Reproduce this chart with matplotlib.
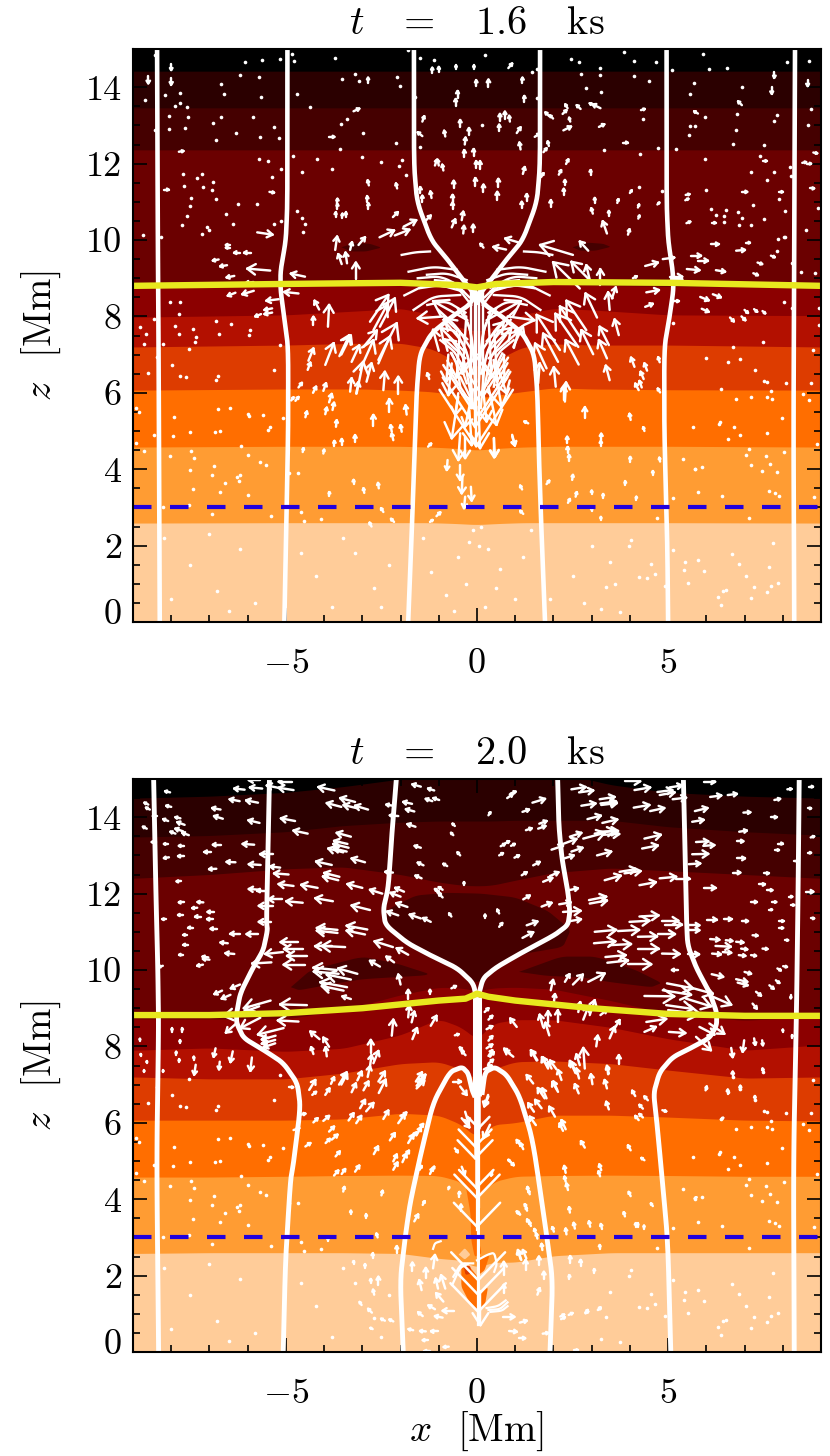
import numpy as np
import matplotlib
matplotlib.use("Agg")
import matplotlib.pyplot as plt
from matplotlib.collections import LineCollection
from matplotlib.ticker import MultipleLocator, FixedLocator
from matplotlib.transforms import ScaledTranslation

plt.rcParams['font.family'] = ['cmr10', 'DejaVu Serif']
plt.rcParams['mathtext.fontset'] = 'cm'
plt.rcParams['axes.formatter.use_mathtext'] = True
plt.rcParams['axes.unicode_minus'] = False

# ---------------- labels ----------------
titles = [r"$t$   =   1.6   ks", r"$t$   =   2.0   ks"]
x_ticks = [-5, 0, 5]
x_tick_labels = [r"$-$5", "0", "5"]
z_ticks = [0, 2, 4, 6, 8, 10, 12, 14]
band_colors = ['#ffcc99', '#ff9c33', '#ff6e00', '#dd3c00', '#b31000', '#8c0000', '#6b0000', '#450000', '#2b0000', '#000000']

# ---------------- isotherm edges, t=1.6 (x knots, then z per edge, bottom to top) ----------------
p1_kx = [-9, -5, -3, -2, -1.2, -.6, 0, .6, 1.2, 2, 3, 5, 9]
p1_edges = [
    [2.59, 2.6, 2.6, 2.6, 2.6, 2.58, 2.55, 2.58, 2.6, 2.6, 2.6, 2.6, 2.59],
    [4.58, 4.6, 4.6, 4.6, 4.58, 4.55, 4.5, 4.55, 4.58, 4.6, 4.6, 4.6, 4.58],
    [6.07, 6.1, 6.1, 6.07, 6.03, 5.95, 5.86, 5.95, 6.03, 6.13, 6.1, 6.08, 6.07],
    [7.2, 7.25, 7.3, 7.3, 7.16, 6.85, 6.67, 6.9, 7.2, 7.28, 7.25, 7.25, 7.2],
    [7.98, 8.04, 8.15, 8.21, 8.05, 7.75, 7.6, 7.75, 8.05, 8.21, 8.17, 8.04, 8.02],
    [8.78, 8.8, 8.82, 8.85, 8.85, 8.85, 8.8, 8.85, 8.85, 8.85, 8.82, 8.78, 8.78],
    [12.36, 12.36, 12.36, 12.36, 12.36, 12.36, 12.36, 12.36, 12.36, 12.36, 12.36, 12.36, 12.36],
    [13.46, 13.46, 13.46, 13.46, 13.46, 13.46, 13.46, 13.46, 13.46, 13.46, 13.46, 13.46, 13.46],
    [14.42, 14.42, 14.42, 14.42, 14.42, 14.42, 14.42, 14.42, 14.42, 14.42, 14.42, 14.42, 14.42],
]
p1_lens_left = [(-3.55, 9.81), (-3.2, 9.92), (-2.8, 9.9), (-2.5, 9.8), (-2.9, 9.7), (-3.3, 9.7)]
p1_lens_right = [(2.5, 9.81), (2.9, 9.93), (3.3, 9.9), (3.5, 9.82), (3.1, 9.72), (2.7, 9.72)]

# ---------------- isotherm edges, t=2.0 ----------------
p2_kx = [-9, -7, -5, -3.5, -2, -1, -.4, 0, .4, 1, 2, 3.5, 5, 7, 9]
p2_edges = [
    [2.58, 2.6, 2.6, 2.6, 2.58, 2.45, 2.4, 2.2, 2.35, 2.35, 2.52, 2.6, 2.6, 2.6, 2.6],
    [4.58, 4.58, 4.6, 4.62, 4.63, 4.62, 4.45, 4.0, 4.45, 4.6, 4.62, 4.63, 4.62, 4.6, 4.6],
    [6.07, 6.07, 6.07, 6.1, 6.25, 6.2, 5.95, 5.6, 5.95, 6.0, 6.2, 6.2, 6.15, 6.07, 6.05],
    [7.2, 7.15, 7.15, 7.3, 7.55, 7.6, 7.4, 7.1, 7.4, 7.6, 7.62, 7.55, 7.38, 7.17, 7.2],
    [7.9, 7.96, 7.87, 7.95, 8.3, 8.72, 8.5, 8.17, 8.6, 8.7, 8.7, 8.5, 8.2, 7.9, 8.04],
    [8.72, 8.72, 8.72, 8.95, 9.35, 9.55, 9.53, 9.45, 9.53, 9.55, 9.5, 9.2, 8.85, 8.68, 8.8],
    [12.4, 12.5, 12.65, 12.7, 12.5, 12.3, 12.22, 12.2, 12.22, 12.35, 12.55, 12.67, 12.6, 12.5, 12.4],
    [13.48, 13.52, 13.62, 13.78, 13.87, 13.9, 13.9, 13.9, 13.9, 13.92, 13.92, 13.92, 13.75, 13.62, 13.53],
    [14.5, 14.55, 14.65, 14.8, 15.0, 15.3, 15.4, 15.4, 15.4, 15.3, 15.2, 14.85, 14.65, 14.55, 14.5],
]
p2_lens_center = [(-2.4, 11.3), (-2.3, 11.6), (-1.6, 11.95), (-.8, 12.02), (.1, 12.0), (1, 11.9), (1.85, 11.55), (2.45, 11.05),
                  (2.25, 10.6), (1.2, 10.42), (.5, 10.05), (0, 9.65), (-.5, 10.05), (-1.25, 10.37), (-1.85, 10.7)]
p2_lens_left = [(-4.87, 9.55), (-4.35, 10.0), (-3, 10.35), (-2.1, 10.17), (-1.17, 9.87), (-3, 9.76), (-3.85, 9.62), (-4.65, 9.47)]
p2_lens_right = [(1.1, 9.95), (2.2, 10.35), (3.1, 10.35), (4.15, 10.0), (4.83, 9.66), (4.56, 9.55), (3.5, 9.68), (2.8, 9.8), (1.8, 9.85)]
p2_flame = [
    ('#ff6e00', [(-.32, 4.5), (.03, 4.5), (.0, 3.63), (.03, 3.02), (.12, 2.58), (-.06, 2.49), (-.15, 2.93), (-.17, 3.63)]),
    ('#ff6e00', [(-.41, 2.23), (-.23, 2.27), (.02, 1.97), (.02, 1.1), (-.23, 1.36), (-.41, 1.71)]),
    ('#dd3c00', [(-.35, 2.25), (-.18, 2.25), (-.14, 2.05), (-.3, 2.02)]),
    ('#ff6e00', [(.07, 2.49), (.33, 2.54), (.2, 2.14), (.03, 2.01)]),
    ('#ff6e00', [(.03, 1.45), (.29, 1.71), (.2, 1.18), (.03, 1.05)]),
    ('#ffcc99', [(-.48, 2.55), (-.32, 2.72), (-.17, 2.55), (-.32, 2.42)]),
]

# ---------------- field lines, (x, z) ----------------
p1_fl = [
    [(-8.37, 15), (-8.35, 10), (-8.33, 7), (-8.3, 0)],
    [(8.32, 15), (8.3, 10), (8.28, 5), (8.3, 0)],
    [(-4.96, 15), (-4.96, 11), (-5.0, 10), (-5.14, 9.2), (-5.14, 8.7), (-5.05, 8.0), (-4.94, 7.2), (-4.94, 5), (-5.0, 2), (-5.04, 0)],
    [(4.96, 15), (4.96, 11), (5.0, 10), (5.12, 9.2), (5.14, 8.7), (5.04, 8.0), (4.9, 7.2), (4.9, 5), (4.98, 2), (5.0, 0)],
    [(-1.65, 15), (-1.65, 12), (-1.57, 11), (-1.2, 10), (-.78, 9.5), (-.4, 9), (-.08, 8.6), (0, 8.3)],
    [(1.65, 15), (1.65, 12), (1.57, 11), (1.2, 10), (.78, 9.5), (.4, 9), (.08, 8.6), (0, 8.3)],
    [(-1.8, 0), (-1.72, 2), (-1.65, 4), (-1.58, 6), (-1.5, 7), (-1.2, 7.55), (-.65, 8.0), (-.2, 8.3), (0, 8.65)],
    [(1.78, 0), (1.7, 2), (1.63, 4), (1.58, 6), (1.5, 7), (1.2, 7.55), (.65, 8.0), (.2, 8.3), (0, 8.65)],
]
p2_fl = [
    [(-8.46, 15), (-8.4, 12), (-8.35, 10), (-8.33, 8.5), (-8.38, 5), (-8.33, 0)],
    [(8.43, 15), (8.4, 12), (8.36, 9), (8.28, 5), (8.3, 0)],
    [(-5.43, 15), (-5.51, 11.26), (-5.48, 11.05), (-5.59, 10.52), (-5.85, 10.08), (-6.19, 9.4), (-6.29, 8.87), (-6.29, 8.61), (-6.11, 8.22), (-5.59, 7.91), (-5.07, 7.57), (-4.7, 7.04), (-4.62, 6.41), (-4.8, 4.95), (-4.88, 4.5), (-5.01, 2.41), (-5.07, 0)],
    [(5.4, 15), (5.48, 11.36), (5.51, 10.65), (5.74, 10.05), (6.08, 9.42), (6.27, 8.9), (6.27, 8.55), (6.08, 8.22), (5.64, 7.98), (5.12, 7.72), (4.78, 7.33), (4.62, 6.78), (4.7, 6.07), (4.83, 4.69), (4.99, 2.93), (5.07, 0)],
    [(-2.11, 15), (-2.22, 13.66), (-2.32, 12.15), (-2.45, 11.62), (-2.4, 11.18), (-1.83, 10.71), (-1.23, 10.39), (-.52, 10.05), (-.1, 9.66), (0, 9.2)],
    [(2.11, 15), (2.14, 13.8), (2.22, 12.93), (2.38, 12.04), (2.43, 11.52), (2.38, 11.18), (2.04, 10.92), (1.2, 10.47), (.52, 10.08), (.16, 9.79), (.03, 9.3)],
    [(-1.93, 0), (-2.01, 1.88), (-1.88, 3.0), (-1.75, 3.9), (-1.49, 5.1), (-1.15, 6.52), (-.71, 7.33), (-.39, 7.46), (-.23, 7.3), (-.13, 6.86), (-.05, 6.67)],
    [(1.91, 0), (1.98, 1.88), (1.83, 3.0), (1.46, 5.55), (1.12, 6.68), (.78, 7.25), (.47, 7.46), (.21, 7.33), (.13, 6.73)],
]
p2_core = [(0, 6.7), (0, 9.3)]

# ---------------- yellow and blue level lines ----------------
p1_yellow_x = [-9, -5, -2, -.5, 0, .5, 2, 5, 9]
p1_yellow_z = [8.8, 8.85, 8.88, 8.82, 8.76, 8.85, 8.9, 8.88, 8.8]
p2_yellow_x = [-9, -7, -5, -3, -1, -.3, 0, .3, 1, 3, 5, 7, 9]
p2_yellow_z = [8.82, 8.82, 8.87, 9.0, 9.2, 9.25, 9.38, 9.3, 9.2, 9.0, 8.85, 8.8, 8.8]
blue_level = [3.0]

# ---------------- tiny velocity marks seen in both frames (deep, weak flow) ----------------
far_left_dots = [(-7.54, 7.15), (-5.15, 7.25), (-8.36, 6.94), (-7.97, 6.74), (-8.61, 6.53), (-7.76, 6.44), (-7.61, 6.41), (-6.78, 6.45),
    (-6.82, 6.33), (-5.3, 6.59), (-8.93, 5.59), (-8.83, 5.49), (-7.93, 5.37), (-6.77, 5.57), (-6.45, 5.59), (-6, 5.44), (-5.96, 5.39),
    (-5.6, 5.42), (-5.08, 5.33), (-5.41, 5.11), (-5.48, 5.02), (-8.45, 4.9), (-7.96, 4.87), (-7.52, 4.98), (-6.86, 4.97), (-6.73, 5.01),
    (-8.93, 4.68), (-8.71, 4.47), (-8.04, 4.34), (-7.48, 4.48), (-7.41, 4.29), (-6.17, 4.61), (-6, 4.38), (-5.69, 4.2), (-5.51, 4.11),
    (-7.52, 3.99), (-6.89, 4.09), (-6.93, 3.86), (-6.58, 3.65), (-6.28, 3.79), (-6.19, 3.85), (-6.22, 3.7), (-7.44, 3.48), (-6.73, 3.41),
    (-5.98, 3.32), (-8.21, 3.02), (-7.54, 3.06), (-6.93, 2.83), (-5.39, 2.77), (-4.6, 2.89), (-4.52, 2.65), (-4.09, 2.7), (-4.93, 3.89), (-4.69, 3.91),
    (-7.5, 1.5), (-6.8, .8), (-8.2, 2.2), (-6.2, 1.9), (-5.8, .5), (-4.2, 1.2), (-3.8, .4), (-3.2, 1.8), (-2.7, .9), (-3.5, 2.2), (-4.6, 1.8), (-7, 2.3), (-8, .6), (-6.5, .3), (-2.3, 1.5), (-2.5, .4)]
far_right_dots = [(5.99, 6.9), (6.57, 6.81), (6.89, 6.88), (6.69, 7.21), (7.49, 7.32), (7.27, 6.6), (7.5, 6.31), (7.6, 6.29), (8.08, 6.26), (8.73, 6.26),
    (8.8, 7.12), (6.38, 6.11), (7.69, 6.05), (7.6, 5.9), (7.72, 5.85), (8.53, 5.97), (8.69, 5.81), (6.78, 5.85), (7.18, 5.88), (7.97, 5.35), (6.36, 5.24),
    (6.34, 5.18), (6.73, 5.11), (5.65, 5.11), (6.89, 4.89), (6.56, 4.78), (7.58, 4.94), (8.89, 4.66), (7.12, 4.54), (7.04, 4.37), (7.56, 4.34), (8.04, 4.46),
    (7.17, 4.11), (7.45, 3.96), (7.67, 4.13), (7.84, 3.92), (7.65, 3.43), (7.8, 3.37), (7.89, 3.3), (8.82, 3.28), (7.11, 2.71), (5.12, 3.24), (5.78, 3.41), (6.41, 3.31),
    (5.38, 4.26), (5.71, 4.0), (5.89, 4.05), (4.71, 2.71),
    (3.47, 1.58), (4.56, 1.51), (5.45, 1.58), (5.79, 1.62), (5.41, 1.36), (5.93, 1.34), (7.04, 1.21), (6.66, 1.77), (6.85, 1.51), (7.63, 1.44), (7.75, 2.06),
    (5.12, 1.88), (5.51, 1.01), (4.25, 1.17), (4.45, 1.14), (4.66, 1.25), (4.91, .95), (3.38, .92), (3.25, .35), (3.75, .25), (6.38, .44), (6.3, .66), (6.51, .84),
    (6.43, .81), (7.17, .62), (7.26, .92), (7.6, .79), (7.69, .94), (7.88, 1.03), (3.97, 2.0), (4.04, 2.15)]

# ---------------- t = 1.6 ks velocity marks ----------------
p1_dots = [(-8.43, 14.84), (-8.15, 13.8), (-7.77, 13.85), (-7.78, 13.58), (-7.91, 13.5), (-7.6, 13.49), (-8.69, 13.66),
    (-6.06, 14.66), (-5.62, 14.7), (-5.15, 14.75), (-4.8, 14.68), (-4.83, 14.88), (-3.71, 14.77), (-1.8, 14.97), (-1.5, 14.77), (-1.13, 14.7),
    (-6.19, 14.31), (-5.71, 14.27), (-6.7, 14.08), (-6.61, 13.82), (-5.64, 13.75), (-4.71, 13.81), (-4.36, 13.49), (-3.54, 14.21), (-3.18, 14.34),
    (-3.1, 14.17), (-2.1, 14.27), (-2.02, 14.03), (-1.63, 13.75), (-8.06, 13.25), (-7.56, 13.21), (-6.71, 13.22), (-5.86, 13.21), (-6.91, 13.05),
    (-7.64, 12.94), (-8.05, 12.9), (-8.43, 12.89), (-6.83, 12.61), (-6.3, 12.79), (-5.67, 12.7), (-5.17, 12.66), (-5.31, 12.96), (-3.41, 13.16),
    (-3.55, 13.04), (-2.99, 12.8), (-3.58, 12.39), (-2.13, 12.54), (-1.49, 12.43), (-5.71, 12.12), (-5.47, 12.07), (-4.82, 12.19), (-4.19, 12.13),
    (-3.0, 12.16), (-2.51, 12.03), (-1.95, 12.09), (-2.04, 11.94), (-1.86, 11.7), (-3.79, 11.85), (-4.59, 11.77), (-5.13, 11.85), (-5.36, 11.65),
    (-7.7, 11.74), (-7.19, 11.74), (-7.32, 11.63), (-6.91, 11.51), (-7.66, 11.42), (-7.16, 11.39), (-6.93, 11.32), (-7.47, 11.09), (-7.51, 10.89),
    (-6.82, 11.07), (-6.24, 10.94), (-5.76, 10.94), (-7.6, 10.64), (-6.56, 10.69), (-7.71, 10.39), (-6.39, 10.43), (-7.06, 10.33), (-7.0, 10.26),
    (-7.2, 10.15), (-8.74, 10.13), (-8.26, 10.08), (-5.32, 10.43), (-5.13, 10.5), (-4.71, 10.75), (-4.59, 10.58), (-4.49, 10.41), (-4.56, 10.2),
    (-8.03, 8.38), (-7.76, 8.38), (-7.8, 8.06), (-6.84, 7.89), (-6.43, 7.79), (-7.89, 7.75), (-7.43, 7.66), (-7.36, 7.47), (-7.39, 7.32), (-7.8, 7.55),
    (-6.74, 7.54), (-5.93, 7.64), (-5.97, 7.51), (-8.45, 7.92), (-8.82, 7.71), (-8.65, 7.53), (-8.71, 7.29), (-8.21, 7.28),
    (.21, 14.84), (3.85, 14.93), (4.11, 14.69), (4.69, 14.65), (5.11, 14.45), (5.92, 14.88), (6.06, 14.47), (6.54, 14.51), (8.68, 14.69), (8.1, 14.65),
    (6.93, 14.01), (5.67, 14.1), (5.58, 13.81), (2.47, 14.73), (2.67, 14.66), (3.21, 14.51), (3.23, 14.33), (2.73, 14.34), (4.1, 14.29), (4.5, 14.16),
    (2.86, 13.98), (3.25, 13.87), (1.45, 14.4), (1.56, 14.47), (1.56, 13.73), (.12, 13.0), (4.34, 13.16), (3.31, 12.36), (4.73, 12.4), (5.21, 12.38),
    (5.96, 13.22), (6.79, 13.31), (5.58, 12.98), (5.71, 12.98), (5.54, 12.74), (6.78, 12.89), (6.71, 12.52), (7.5, 12.48), (7.86, 13.27), (7.76, 13.11),
    (8.65, 13.02), (8.73, 13.42), (4.25, 11.4), (4.85, 11.29), (4.27, 12.25), (6.47, 10.47), (5.99, 11.32), (6.12, 10.82), (6.25, 10.65), (6.47, 10.63),
    (6.52, 10.78), (6.82, 10.74), (6.93, 10.57), (6.86, 10.39), (7.18, 10.4), (7.5, 10.56), (7.23, 10.91), (8.05, 10.77), (7.91, 11.08), (7.18, 11.78),
    (7.76, 11.77), (7.6, 11.57), (7.41, 12.21), (5.96, 12.12), (8.18, 11.9), (8.21, 11.68), (8.91, 10.85), (8.62, 10.26), (8.04, 10.07),
    (8.03, 8.38), (8.25, 8.23), (8.95, 8.21), (8.95, 7.77), (5.14, 7.83), (7.88, 10.02), (8.05, 10.09), (7.86, 9.71), (8.25, 9.39), (8.47, 9.17), (8.85, 9.13),
    (-.1, 2.4), (-.2, 2.1), (.1, 2.5), (.05, 2.0), (.3, 1.9), (-.5, 1.7), (.6, 1.4), (-.3, 1.0), (.5, .9), (-.8, .7), (1, .6), (.2, .4), (-.6, .3), (1.2, 1.7), (-1.2, 1.3), (1.4, 2.4), (-1.4, 2.2),
    (5.71, 4.0), (2.5, 1.2), (3.0, 2.0), (1.9, .6), (2.8, .5), (3.6, 1.0)]
p1_arrows_top_left = [(-8, 14.6, 0, -.15), (-8.6, 14.3, 0, -.2), (-8, 14.25, 0, -.18), (-1.17, 14.37, 0, .14), (-1, 14.39, 0, .14), (-.55, 14.47, 0, .1), (-.08, 14.47, 0, .1),
    (-2.85, 14.12, 0, .13), (-.51, 13.73, 0, .17), (-.56, 13.52, 0, .17), (-.02, 14.03, 0, .15), (-3.23, 13.37, .15, .07), (-3.86, 12.7, .13, 0), (-1.43, 13.1, .05, .14),
    (-1.43, 12.72, -.12, .1), (-.83, 12.71, -.03, .15), (-.44, 12.97, 0, .17), (-.21, 12.75, 0, .18), (-.32, 12.5, .02, .18), (-.33, 12.17, 0, .18), (-.09, 12.2, 0, .18),
    (-7.8, 12.31, .12, .02), (-1.1, 11.95, .05, .15), (-1.0, 11.95, -.03, .15), (-.88, 11.82, -.03, .15), (-.02, 11.88, 0, .18), (-.61, 11.35, 0, .2), (-.04, 11.42, 0, .2),
    (-1.48, 11.22, 0, .16), (-1.43, 11.0, 0, .16), (-1.19, 11.1, -.03, .17), (-.64, 11.0, 0, .18), (-.64, 10.8, 0, .18), (-8.19, 11.32, .12, 0), (-5.43, 11.26, .12, -.02),
    (-2.83, 11.43, -.03, .13), (-2.09, 11.35, -.03, .13), (-3.65, 10.95, 0, .13), (-3.65, 10.82, 0, .12), (-3.7, 10.6, 0, .12), (-3.52, 10.57, 0, .12), (-3.43, 10.6, 0, .12),
    (-2.87, 11.0, 0, .14), (-2.84, 10.82, 0, .14), (-2.2, 10.6, .13, .13), (-1.35, 10.5, .14, .14), (-1.92, 10.35, .33, .17), (-2.55, 10.07, .38, .18), (-2.15, 10.12, .38, .15),
    (-.66, 10.33, .09, .21), (-.4, 10.52, .04, .22), (-.36, 10.17, .02, .2), (-.1, 10.2, 0, .2), (-5.75, 10.2, .4, -.06)]
p1_arrows_mid_left = [(-3.17, 8.97, 0, .44), (-3.9, 7.73, .03, .57), (-4.28, 7.77, 0, .22), (-4.13, 8.18, -.12, .23), (-3.71, 9.74, .05, .35), (-3.54, 9.37, -.09, .26),
    (-3.4, 9.39, -.04, .28), (-3.32, 9.74, .05, .2), (-3.1, 9.87, .17, .2), (-6.45, 9.87, -.12, 0), (-6.45, 9.8, -.12, 0), (-6.19, 9.67, -.16, 0), (-5.91, 9.67, -.18, 0),
    (-6.76, 9.49, -.15, -.03), (-6.54, 9.34, -.18, -.03), (-6.35, 9.06, -.2, -.04), (-5.41, 9.2, -.6, .05), (-4.5, 9.04, -.37, .08), (-5.85, 8.9, -.2, -.03),
    (-6.32, 8.62, -.2, -.08), (-5.84, 8.67, -.3, -.09), (-4.67, 8.6, -.37, .04), (-5.19, 8.45, -.32, -.04), (-5.36, 8.21, -.2, -.04), (-5.36, 8.1, -.2, -.04), (-5.65, 8.06, -.15, -.06),
    (-4.41, 6.84, .13, .32), (-4.43, 6.6, .07, .19), (-3.97, 6.73, .22, .57), (-3.6, 6.96, .26, .55), (-3.55, 7.0, .25, .5), (-3.28, 6.81, .2, .43), (-2.8, 7.86, .48, .7),
    (-2.71, 7.64, .35, .65), (-2.58, 6.86, .48, .96), (-2.58, 6.77, .3, .7), (-3.06, 6.6, .35, .78), (-3.15, 5.98, .17, .83), (-2.89, 6.29, .13, .48), (-3.32, 6.03, .04, .35),
    (-3.16, 5.98, .06, .3), (-2.45, 6.07, .04, .48), (-2.06, 5.98, 0, .44), (-2.97, 7.2, .35, .43), (-2.54, 7.73, .39, .74), (-1.25, 6.36, -.05, .15), (-4.67, 6.14, .09, .12),
    (-4.29, 6.0, .08, .16), (-4.02, 6.05, .07, .2), (-3.87, 5.75, .07, .22), (-3.97, 5.44, .04, .17), (-3.78, 5.55, .04, .19), (-4.49, 5.36, .04, .15), (-3.69, 5.11, .02, .17),
    (-2.29, 5.5, 0, .33), (-1.84, 5.43, -.03, .24), (-2.71, 5.14, 0, .28), (-2.23, 4.98, -.03, .17), (-2.19, 4.76, -.04, .17), (-1.97, 4.98, -.03, .17), (-3.19, 4.7, 0, .19),
    (-3.54, 4.63, 0, .16), (-3.73, 4.6, 0, .14), (-4.56, 4.45, .02, .1), (-4.02, 4.41, .02, .1), (-3.23, 3.6, 0, .12), (-2.95, 3.38, -.02, .12), (-2.57, 3.5, -.02, .14),
    (-3.86, 3.3, 0, .1), (-1.28, 4.59, .08, .08), (-2.45, 2.88, -.06, .1), (-2.17, 2.62, -.08, .08), (-2.76, 2.5, -.05, .1), (-1.23, 2.62, .07, .05), (-1.06, 2.77, .1, .1),
    (-4.86, 5.8, .06, .08), (-4.75, 5.79, .08, .1)]
p1_arrows_center = [(-.66, 6.77, -.09, -.83), (-.44, 6.42, .3, -.61), (-.49, 5.99, -.08, -.57), (-.18, 5.73, -.13, -.61), (-.49, 5.9, -.17, -1.09), (-.44, 4.94, -.05, -.7),
    (-.31, 4.85, 0, -.56), (.04, 5.64, .04, -1.09), (-.2, 5.55, .06, -.92), (.44, 4.81, .03, -.48), (.92, 4.9, .07, -.27), (.3, 6.16, .21, -1.0), (.17, 5.99, .08, -.74),
    (.43, 6.86, .21, -1.22), (.51, 6.77, .26, -.78), (-.77, 4.24, -.02, -.26), (-.44, 4.11, 0, -.39), (-.38, 3.81, -.02, -.44), (-.16, 3.54, .02, -.36), (-.31, 3.28, -.03, -.3),
    (-.15, 8.8, 0, -3.2), (-.05, 8.8, 0, -3.7), (.05, 8.8, 0, -3.4), (.15, 8.8, 0, -2.9), (-.02, 8.8, 0, -4.2),
    (-.28, 8.0, -.1, -1.5), (.3, 8.0, .08, -1.6), (-.45, 7.6, -.08, -1.2), (.45, 7.6, .08, -1.3), (-.75, 7.0, -.05, -.7), (.7, 7.0, .02, -.7),
    (.3, 6.9, .78, .7), (.3, 7.1, .6, .6), (.25, 7.35, .45, .5), (-.3, 6.9, -.55, .5), (-.35, 7.1, -.6, .6), (-.25, 7.4, -.6, .55),
    (-.25, 7.9, -.9, .5), (.25, 7.9, .9, .5), (.95, 7.2, .25, .55), (-1.0, 7.1, -.15, .55), (.8, 8.0, .7, -.1), (-.85, 8.0, -.7, -.05)]
p1_arrows_right = [(3.47, 6.33, -.1, .38), (2.06, 6.16, -.05, .51), (2.3, 5.77, .03, .5), (2.27, 5.81, 0, .35), (2.82, 5.33, 0, .29), (1.6, 6.25, .04, .52),
    (1.11, 9.93, -.37, .11), (.76, 9.75, -.33, .07), (.17, 9.8, -.08, .1), (2.51, 9.61, -.86, .26), (2.91, 9.72, -.22, .24), (2.69, 8.73, -.7, .69), (2.95, 8.95, -.48, .48),
    (2.95, 8.95, -.09, .39), (3.23, 8.82, 0, .41), (3.14, 7.97, -.3, .63), (3.47, 8.17, -.04, .46), (3.53, 8.47, .1, .29), (2.86, 7.64, -.52, .77), (2.69, 7.47, -.52, .79),
    (2.65, 7.2, -.6, .87), (2.17, 7.12, -.61, .92), (2.12, 6.81, -.39, .74), (1.82, 6.64, -.3, .65), (2.66, 6.74, -.34, .64), (3.04, 7.01, -.31, .63), (3.4, 6.9, -.21, .48),
    (3.45, 7.25, -.24, .48), (3.71, 7.51, -.11, .41), (4.12, 6.68, -.09, .24), (4.45, 6.58, -.07, .19), (4.36, 6.36, -.08, .19), (4.31, 6.14, -.06, .17), (4.23, 6.07, -.09, .17),
    (4.78, 6.8, -.04, .13), (4.79, 6.01, -.06, .1), (4.02, 5.29, -.03, .16), (4.38, 5.0, -.03, .1), (1.34, 5.2, -.1, .05), (2.36, 4.68, 0, .17), (3.25, 4.76, 0, .17),
    (3.24, 4.6, 0, .14), (2.37, 4.42, 0, .16), (2.41, 4.22, 0, .15), (.45, 4.81, 0, -.5), (.92, 4.87, .07, -.25), (4.01, 4.2, 0, .12), (4.79, 4.2, -.02, .1), (4.6, 3.85, 0, .1),
    (3.88, 3.58, 0, .1), (2.49, 3.72, .02, .13), (1.82, 3.61, .07, .09), (1.18, 3.47, -.05, .1), (2.58, 3.28, .03, .12), (2.38, 3.12, .05, .1), (3.0, 3.34, 0, .1), (3.3, 3.25, 0, .1),
    (1.21, 2.83, -.08, .08), (3.0, 2.9, 0, .08), (3.24, 2.67, 0, .08), (4.17, 3.2, 0, .08),
    (4.4, 9.32, .33, .09), (4.86, 9.5, .3, .04), (5.6, 9.59, .26, 0), (5.78, 9.46, .26, 0), (5.49, 9.24, .33, -.03), (6.25, 9.21, .24, -.04), (6.12, 9.89, .2, 0),
    (6.78, 9.72, .23, .02), (7.04, 9.93, .1, 0), (7.23, 9.13, .12, -.05), (7.34, 9.41, .12, -.04), (7.69, 9.59, .1, -.04), (5.04, 9.04, .33, 0), (5.08, 8.97, .29, 0),
    (4.08, 9.0, .1, .05), (4.43, 8.63, .33, .06), (4.4, 8.25, .2, .08), (5.15, 8.4, .13, 0), (5.84, 8.51, .22, -.09), (6.17, 8.58, .21, -.08), (5.88, 8.2, .18, -.08),
    (7.0, 8.17, .09, -.08), (7.25, 8.19, .08, -.07), (7.47, 8.14, .07, -.06), (6.62, 7.97, .1, -.1), (6.92, 8.0, .1, -.1)]
p1_arrows_top_right = [(7.78, 14.4, 0, -.15), (8.65, 14.2, 0, -.17), (7.71, 14.0, 0, -.17), (.82, 14.5, .1, .12), (.3, 14.0, 0, .2), (1.19, 14.1, 0, .15), (1.24, 13.62, 0, .15),
    (.6, 13.12, 0, .18), (.73, 13.18, 0, .18), (.86, 13.1, -.02, .15), (.58, 12.85, 0, .17), (1.04, 12.8, .1, .15), (1.14, 12.37, -.03, .18), (1.51, 12.7, .12, .08), (1.89, 13.24, -.1, .1),
    (1.99, 13.18, -.08, .08), (2.24, 13.3, .1, .1), (2.37, 13.45, -.06, .1), (2.71, 13.43, -.1, .1), (3.05, 13.52, -.1, .06), (3.23, 13.45, -.2, .1), (2.44, 13.1, -.03, .1),
    (2.26, 12.87, .2, .1), (3.19, 12.96, .14, .07), (4.29, 13.4, .1, .03), (3.82, 12.55, .12, 0), (1.88, 12.46, -.03, .12), (1.74, 12.3, .08, .1), (5.78, 13.31, -.1, .06),
    (6.93, 13.53, -.1, .1), (.08, 11.86, 0, .2), (1.2, 11.73, .05, .18), (2.33, 11.99, .06, .12), (2.14, 11.71, .06, .12), (1.68, 11.65, .06, .1), (2.97, 11.71, 0, .12),
    (.56, 11.4, 0, .2), (.17, 11.25, 0, .2), (.53, 11.04, 0, .22), (2.3, 11.43, 0, .14), (2.27, 11.19, 0, .15), (3.08, 10.98, 0, .12), (1.93, 10.87, 0, .17), (1.3, 11.03, 0, .17),
    (1.17, 10.83, 0, .17), (3.03, 10.69, -.04, .14), (3.45, 10.64, 0, .12), (3.4, 10.17, -.11, .32), (3.95, 10.14, .04, .14), (3.67, 10.97, .03, .1), (4.0, 11.23, .05, .07),
    (4.21, 10.85, .03, .08), (4.22, 10.56, .03, .08), (4.72, 10.93, .05, .05), (5.48, 10.44, .1, .04), (6.14, 10.45, .1, 0), (5.46, 11.18, .1, .02), (5.45, 11.04, .08, .04), (6.93, 11.26, .14, 0),
    (7.9, 11.26, .1, 0), (7.48, 12.07, .1, 0), (8.7, 11.35, .12, 0), (8.51, 12.02, .1, .02), (8.64, 12.0, .1, 0), (8.8, 12.29, .1, -.02)]
p1_fan_left = [
    [(-1.97, 9.61), (-1.6, 9.68), (-1.23, 9.7)],
    [(-1.79, 9.17), (-1.14, 9.3), (-.53, 9.22)],
    [(-1.31, 9.09), (-.79, 9.13), (-.27, 8.95)],
    [(-1.66, 8.17), (-1.14, 8.52), (-.44, 8.56)],
    [(-1.49, 8.74), (-.96, 8.82), (-.36, 8.65)],
    [(-1.01, 8.17), (-.53, 7.73), (-.14, 7.12)],
    [(-.88, 7.91), (-.36, 7.3), (-.1, 6.5)],
    [(-.96, 7.38), (-.53, 7.03), (-.27, 6.25)],
    [(-.66, 7.03), (-.53, 6.77), (-.44, 6.16)],
    [(-.9, 8.9), (-.5, 8.75), (-.15, 8.3)],
    [(-1.1, 8.95), (-.6, 8.9), (-.2, 8.5)],
    [(-.5, 8.2), (-.2, 7.8), (-.07, 6.8)],
    [(-.35, 8.1), (-.13, 7.5), (-.05, 6.3)],
    [(-1.55, 9.0), (-.95, 9.05), (-.35, 8.75)],
    [(-1.9, 8.55), (-1.3, 8.85), (-.6, 8.75)],
    [(-1.3, 8.3), (-.8, 8.4), (-.3, 8.1)],
    [(-.75, 7.5), (-.35, 6.95), (-.15, 5.9)],
    [(-.55, 7.6), (-.22, 7.0), (-.1, 5.6)],
]

# ---------------- t = 2.0 ks velocity marks ----------------
p2_arrows_top_left = [(-5.67, 14.97, -.3, 0), (-4.84, 14.93, -.35, 0), (-6.08, 14.72, -.27, .03), (-5.62, 14.75, -.32, .03), (-5.15, 14.76, -.35, .07), (-4.8, 14.71, -.39, .06),
    (-3.73, 14.7, -.42, .09), (-8.03, 14.65, -.13, .03), (-6.21, 14.42, -.26, .05), (-5.73, 14.38, -.31, .06), (-3.19, 14.4, -.39, .1), (-3.55, 14.27, -.38, .1), (-3.12, 14.23, -.37, .09),
    (-2.85, 14.2, -.34, .1), (-8.0, 14.27, -.13, .03), (-6.71, 14.2, -.22, .04), (-8.6, 14.33, -.1, .05), (-8.56, 14.2, -.1, .05), (-2.2, 14.3, -.17, .03), (-1.7, 14.35, -.23, .05),
    (-1.64, 14.15, -.22, .06), (-1.17, 14.42, -.17, .06), (-.99, 14.45, -.15, .05), (-1.47, 14.8, -.22, .06), (-1.12, 14.7, -.16, .05), (-8.38, 14.03, -.1, 0), (-8.08, 13.9, -.13, .05),
    (-7.76, 13.97, -.13, .03), (-7.65, 13.8, -.19, .07), (-6.65, 13.96, -.23, .07), (-5.69, 13.85, -.29, .07), (-4.76, 13.9, -.37, .07), (-8.64, 13.7, -.1, .05), (-7.69, 13.63, -.2, .07),
    (-7.54, 13.53, -.17, .06), (-7.89, 13.57, -.13, .05), (-4.43, 13.57, -.37, .08), (-3.3, 13.49, -.37, .1), (-2.06, 14.03, -.22, .02), (-1.61, 13.75, -.21, .07), (-.58, 13.77, -.06, .06),
    (-.62, 13.53, -.06, .06), (-8.41, 13.35, -.1, 0), (-8.09, 13.3, -.1, 0), (-7.67, 13.25, -.13, 0), (-6.71, 13.28, -.2, 0), (-5.83, 13.28, -.3, .02), (-3.39, 13.3, -.35, .08), (-3.36, 13.2, -.4, .1),
    (-3.41, 13.1, -.33, .08), (-3.5, 13.08, -.39, .1), (-1.47, 13.2, -.16, .05), (-6.95, 13.09, -.18, 0), (-5.34, 13.03, -.33, 0), (-8.06, 12.95, -.13, -.02), (-7.67, 12.98, -.15, 0),
    (-6.32, 12.82, -.23, .01), (-5.66, 12.75, -.31, .02), (-5.15, 12.68, -.26, .03), (-6.82, 12.65, -.19, -.01), (-3.8, 12.75, -.41, .09), (-2.93, 12.82, -.35, .1), (-.44, 13.0, -.07, .08),
    (-.78, 12.72, -.1, .06), (-1.4, 12.74, -.15, .07), (-2.2, 12.55, -.2, .02), (-4.93, 12.5, -.38, .03), (-3.6, 12.44, -.4, .1), (-3.63, 12.35, -.4, .1), (-1.45, 12.4, -.16, .07),
    (-.34, 12.22, 0, .08), (-7.74, 12.32, -.12, 0), (-4.8, 12.2, -.39, .05), (-4.17, 12.15, -.43, .08), (-3.0, 12.15, -.39, .1), (-2.48, 12.0, -.32, .1), (-1.91, 12.05, -.23, .1),
    (-2.0, 11.92, -.26, .1), (-5.67, 12.1, -.3, .02), (-5.55, 12.08, -.2, 0), (-5.1, 11.85, -.35, 0), (-4.56, 11.76, -.43, .04), (-3.77, 11.8, -.46, .08), (-1.82, 11.65, -.29, .1),
    (-7.67, 11.77, -.13, 0), (-7.16, 11.77, -.15, .01), (-7.32, 11.63, -.13, -.01), (-6.88, 11.52, -.17, 0), (-7.21, 11.4, -.16, 0), (-6.9, 11.33, -.16, 0), (-7.7, 11.44, -.12, 0),
    (-8.13, 11.33, -.1, 0), (-5.35, 11.68, -.36, 0), (-5.38, 11.26, -.33, 0), (-2.8, 11.57, -.48, .12), (-2.06, 11.43, -.29, .1), (-1.47, 11.35, -.29, .1), (-1.21, 11.26, -.2, .1),
    (-1.0, 12.05, -.1, .07), (-.95, 12.0, -.1, .07), (-.9, 12.1, -.1, .07), (-.9, 11.9, -.1, .1), (-.67, 11.4, -.06, .08)]
p2_arrows_mid_left = [(-7.43, 11.11, -.12, 0), (-6.8, 11.08, -.17, 0), (-6.21, 10.95, -.24, 0), (-5.73, 10.94, -.3, 0), (-6.52, 10.7, -.19, .02), (-6.35, 10.42, -.23, .02), (-7.56, 10.66, -.12, 0),
    (-7.69, 10.4, -.1, 0), (-7.03, 10.33, -.15, .02), (-7.17, 10.14, -.15, -.03), (-7, 10.27, -.17, .02), (-8.22, 10.11, -.1, -.03), (-7.58, 10.92, -.1, 0), (-4.68, 10.73, -.46, 0),
    (-4.56, 10.55, -.49, 0), (-4.45, 10.37, -.52, 0), (-4.5, 10.14, -.56, 0), (-5.08, 10.47, -.46, -.05), (-5.38, 10.2, -.5, -.03), (-3.65, 11.05, -.54, .05), (-3.65, 10.97, -.54, .06),
    (-2.87, 11.06, -.54, .1), (-2.93, 10.93, -.48, .1), (-3.8, 10.62, -.43, 0), (-3.45, 10.6, -.61, .03), (-2.2, 10.6, -.48, .15), (-1.8, 10.4, -.3, .17), (-2.54, 10.09, -.26, .15),
    (-2.17, 10.2, -.2, .15), (-3.67, 10.0, -.61, .06), (-3.62, 9.9, -.65, .06), (-3.13, 9.9, -.5, .14), (-3.3, 9.75, -.63, .13), (-3.4, 9.55, -.7, .13), (-3.49, 9.46, -.57, .12),
    (-2, 9.62, -.06, .26), (-1.8, 9.24, 0, .24), (-1.23, 9.36, 0, .12), (-.67, 9.52, .12, .06), (-3.3, 9.24, -.22, .07), (-4.45, 9.08, -.7, .02), (-6.45, 9.35, -.23, -.1), (-6.67, 9.46, -.2, -.09),
    (-5.4, 9.2, -.7, -.2), (-5.7, 9.05, -.4, -.15), (-5.97, 8.9, -.65, -.1), (-6.2, 9.62, -.24, -.1), (-5.67, 8.75, -.52, -.27), (-6.3, 8.6, -.27, -.24), (-4.67, 8.65, -.54, .03),
    (-5.06, 8.48, -.67, -.17), (-5.27, 8.28, -.36, -.1), (-5.28, 8.17, -.35, -.1), (-5.28, 8.08, -.3, -.1), (-4.12, 8.19, -.24, .2), (-3.87, 7.99, -.15, .24), (-4.28, 7.8, -.06, .18),
    (-3.93, 7.74, -.03, .24), (-2.78, 7.82, 0, .35), (-2.8, 7.47, .04, .3), (-2.71, 7.56, .13, .32), (-2.86, 7.2, .06, .28), (-2.23, 8.28, .04, .42), (-1.8, 8.76, .03, .3), (-1.71, 8.63, .07, .28),
    (-1.21, 8.54, .15, .26), (-1.69, 8.19, .12, .29), (-.58, 8.29, .1, .03), (-6.84, 7.95, -.05, -.22), (-6.39, 7.87, -.06, -.28), (-6.73, 7.6, -.02, -.2), (-5.89, 7.71, -.04, -.35), (-7.36, 7.52, -.04, -.26),
    (-7.98, 8.39, 0, .08), (-7.71, 8.39, 0, .08), (-7.77, 8.08, 0, .08), (-7.87, 7.78, 0, .08), (-7.41, 7.65, 0, .08), (-7.79, 7.58, 0, .08), (-8.82, 8.15, 0, .05), (-8.8, 7.75, 0, .05),
    (-8.64, 7.56, 0, .05), (-8.71, 7.32, 0, .05), (-8.21, 7.32, 0, .05), (-4.91, 6.93, .1, 0),
    (-4.39, 6.86, .16, .26), (-4.31, 6.73, .1, .08), (-3.82, 7.02, .08, .17), (-3.97, 6.73, .11, .17), (-3.61, 7.0, .2, .32), (-3.55, 7.0, .15, .28), (-3.13, 7.11, .11, .23), (-3.28, 6.8, .11, .23),
    (-2.97, 6.85, .13, .23), (-2.58, 7.08, .17, .26), (-2.57, 6.78, .18, .35), (-1.6, 7.08, .16, .24), (-1.58, 6.97, .17, .2), (-3.06, 6.38, .13, .22), (-2.9, 6.3, .19, .22), (-2.45, 6.1, .13, .22),
    (-2.06, 5.99, .17, .24), (-3.36, 6.06, .13, .19), (-3.16, 5.99, .13, .19), (-4.28, 6.01, .11, .11), (-4.02, 6.05, .15, .13), (-3.87, 5.77, .13, .13), (-3.8, 5.56, .15, .13), (-3.96, 5.47, .11, .11),
    (-4.49, 5.38, .13, .09), (-2.28, 5.54, .13, .19), (-1.8, 5.47, .13, .22), (-1.58, 5.68, .11, .19), (-2.7, 5.18, .11, .2), (-3.7, 5.12, .11, .13), (-2.19, 4.99, .09, .18), (-1.95, 4.97, .1, .22),
    (-2.19, 4.77, .11, .19), (-3.19, 4.72, .11, .16), (-3.74, 4.62, .11, .13), (-3.54, 4.66, .09, .13), (-1.23, 4.66, .07, .15), (-4.62, 6.21, .13, .03), (-4.8, 5.81, .15, .05)]
p2_arrows_center_small = [(-.35, 7.87, -.1, .1), (-.3, 7.77, -.1, .1), (.34, 7.73, .1, .12), (.86, 7.82, -.15, .12), (-.62, 7.08, .2, 0), (-.44, 6.95, .17, -.22), (.3, 6.69, -.08, -.2), (.29, 6.73, -.1, -.3),
    (-.31, 6.29, .09, -.3), (-.4, 6.12, .2, -.24), (.34, 5.95, -.17, -.35), (-.58, 5.33, .08, -.1), (-.4, 4.85, .08, -.2), (.86, 4.99, .1, -.1), (.4, 4.72, -.03, -.1),
    (-1.17, 4.75, .05, .1), (-1.5, 4.77, .05, .1), (-1.88, 5.12, .1, .15), (-1.7, 5.6, .12, .15), (-1.53, 5.82, .12, .15), (-1.97, 6.15, .12, .12), (-1.55, 7.06, .2, .2), (-1.58, 6.9, .2, .2),
    (1.14, 5.4, -.1, .15), (-.75, 4.26, .02, .06), (-.46, 4.07, 0, .12), (-.42, 3.68, 0, .18), (-1.42, 3.85, .05, .1), (-1.64, 3.42, .1, .18), (1.12, 3.6, -.08, .08), (1.3, 3.77, -.05, .1),
    (1.34, 4.2, -.02, .12), (1.38, 3.35, -.07, .12), (1.54, 3.1, -.04, .12), (2.01, 3.15, -.04, .12)]
p2_chevrons = [(0, 5.7, 0, -2.42), (0, 6.4, 0, -2.37), (-.02, 6.1, 0, -1.8), (-.05, 6.9, 0, -1.83), (-.05, 7.1, 0, -1.72), (.04, 7.0, 0, -1.14),
    (.03, 3.95, 0, -2.9), (.03, 4.2, 0, -2.7), (.03, 4.7, 0, -2.82)]
p2_arrows_bottom_center = [(.09, 1.6, 0, -.9), (-1.15, 2.19, .05, .35), (-1.34, 1.93, 0, .27), (-1.69, 2.13, 0, .21), (-2.1, 2.6, 0, .17), (-2.73, 2.45, 0, .13), (-2.93, 2.2, 0, .1), (-3.23, 2.3, 0, .08),
    (-2.58, 1.75, 0, .22), (-2.78, 1.8, 0, .11), (-2.69, 1.5, -.03, .13), (-1.45, 1.62, -.06, .26), (-1.02, 1.66, -.06, .26), (-.83, 1.66, -.11, .35), (-.88, 1.32, -.19, .22), (-1.1, 1.12, -.17, .1),
    (-1.42, .94, -.12, .1), (-2.75, 1.03, -.1, .1), (-3.02, 1.23, -.05, .08), (-2.41, .82, -.1, .05), (-2.19, .8, -.1, .05), (-1.67, .57, -.12, .03), (-1.34, .54, -.15, .01), (-1.03, .54, -.17, 0),
    (-2.73, .6, -.06, .03), (-.9, .9, -.2, .04), (-.6, 1.08, -.3, 0), (-1.29, .31, -.13, 0), (-.74, .14, -.13, -.01), (-1.23, .02, -.15, 0), (.7, 2.01, 0, .35), (1.27, 2.15, 0, .26), (1.16, 2.41, -.09, .26),
    (1.29, 2.45, -.09, .22), (1.62, 2.28, 0, .22), (1.75, 1.9, 0, .2), (1.58, 1.5, .06, .17), (2.44, 2.34, 0, .17), (2.71, 2.25, 0, .16), (2.42, 1.9, 0, .11), (3.07, 2.07, 0, .1), (.7, 1.54, 0, .22),
    (.68, .92, .3, 0), (1.12, .77, .18, .05), (.84, .55, .2, -.02), (1.09, .36, .17, 0), (1.72, .48, .14, .02), (2.18, .93, .1, .05), (2.2, .86, .1, .05), (2.4, .97, .1, .05), (2.83, 1.03, .07, .07), (3.16, 1.1, .07, .07)]
p2_curves = [
    [(-.95, 2.9), (-1.1, 2.85), (-1.15, 2.7)],
    [(.0, 2.4), (.28, 2.55), (.45, 2.6), (.52, 2.3), (.45, 2.1)],
    [(-.62, 1.97), (-.41, 2.32), (-.1, 2.32)],
    [(-.65, 1.75), (-.45, 2.2), (-.25, 2.3)],
    [(.25, 1.15), (.55, 1.2), (.75, 1.35)],
    [(.3, 1.1), (.6, 1.12), (.8, 1.3)],
    [(.35, 1.05), (.65, 1.08), (.8, 1.2)],
    [(.03, .7), (.03, 3.2)],
    [(.0, 3.2), (.0, 6.8)],
    [(.06, 3.8), (.06, 6.8)],
]
p2_arrows_right_low = [(1.82, 6.64, -.11, .26), (2.12, 6.81, -.15, .26), (2.66, 6.77, -.1, .24), (3.4, 6.9, -.06, .22), (3.02, 7.01, -.04, .26), (3.43, 7.27, -.02, .19), (2.21, 7.12, -.09, .26),
    (2.67, 7.16, -.07, .26), (2.6, 7.29, -.13, .3), (1.95, 7.42, -.09, .17), (1.47, 7.03, -.17, .22), (1.77, 6.64, -.18, .27), (1.49, 6.29, -.15, .22), (1.69, 6.38, -.17, .22), (2.04, 6.16, -.15, .26),
    (1.54, 5.94, -.16, .22), (2.32, 5.83, -.11, .24), (2.25, 5.79, -.09, .19), (2.1, 6.86, -.1, .22), (1.56, 7.63, -.13, .24), (1.86, 7.45, -.13, .26), (3.45, 6.35, -.07, .2), (4.14, 6.7, -.08, .14),
    (4.47, 6.59, -.09, .1), (4.34, 6.37, -.09, .1), (4.34, 6.14, -.09, .09), (4.23, 6.07, -.09, .11), (4.85, 6.33, .1, -.03), (6.38, 6.09, .06, .04), (6.56, 6.75, 0, .12), (6.89, 6.85, 0, .12),
    (5.98, 6.85, .03, .1), (7.27, 6.6, 0, .1), (6.69, 7.19, 0, .15), (7.5, 7.32, -.03, .1), (2.82, 5.35, -.1, .17), (1.21, 5.31, -.07, .15), (4.02, 5.28, -.07, .13), (4.38, 5.02, -.08, .06),
    (.88, 4.98, -.06, .05), (2.32, 4.69, -.04, .18), (3.25, 4.76, -.05, .15), (3.22, 4.6, -.04, .13), (2.32, 4.46, -.03, .13), (2.38, 4.24, -.04, .17), (4.02, 4.08, -.05, .11), (4.6, 3.82, -.05, .07),
    (3.87, 3.55, -.03, .11), (2.43, 3.65, -.02, .14), (1.38, 4.13, -.03, .09), (1.31, 3.7, -.03, .08), (1.13, 3.6, -.06, .05), (1.41, 3.3, -.04, .1), (2.34, 3.08, -.02, .15), (2.56, 3.23, -.03, .15),
    (2.96, 3.28, -.03, .14), (3.27, 3.22, -.03, .13), (4.15, 3.27, 0, .1), (4.2, 3.27, 0, .1), (4.37, 3.23, 0, .08), (1.58, 2.97, -.03, .13), (1.71, 2.67, -.02, .16), (1.14, 2.43, -.06, .2), (3.21, 2.7, 0, .1),
    (3.17, 1.1, .07, .05), (2.84, 1.01, .07, .05), (2.54, .05, .1, 0), (5.69, 4.02, .05, .03), (-3.3, 3.6, .0, .1), (-2.6, 3.0, -.03, .1), (-3.9, 2.9, 0, .1), (-2.9, 3.5, 0, .1), (-3.5, 4.2, .03, .12), (-2.5, 4.1, .03, .12)]
p2_arrows_top_right = [(3.86, 14.94, .41, 0), (2.47, 14.73, .37, .06), (2.67, 14.65, .37, .05), (4.12, 14.71, .41, .07), (4.72, 14.66, .39, .05), (4.78, 14.58, .39, .07), (5.04, 14.78, .32, .05),
    (5.12, 14.47, .35, .04), (5.95, 14.93, .28, 0), (6.1, 14.53, .29, .04), (6.56, 14.58, .24, .03), (8.12, 14.73, .11, .01), (8.69, 14.8, .1, 0), (7.78, 14.45, .15, .03), (8.65, 14.23, .09, 0),
    (7.69, 14.0, .15, 0), (6.97, 14.12, .18, .01), (5.7, 14.16, .33, .08), (5.63, 13.88, .3, .05), (3.21, 14.47, .39, .06), (3.25, 14.32, .41, .05), (3.23, 14.36, .41, .05), (2.73, 14.3, .37, .06),
    (4.1, 14.25, .41, .07), (4.53, 14.16, .37, .08), (2.89, 13.95, .35, .09), (3.28, 13.85, .39, .09), (1.45, 14.38, .33, .1), (.79, 14.5, .14, .1), (.88, 14.62, .13, .05), (1.19, 14.14, .17, .06),
    (.3, 14.05, .05, .08), (1.28, 13.66, .15, .05), (1.6, 13.7, .19, .07), (1.63, 13.83, .19, .07), (2.78, 13.44, .56, .15), (3.08, 13.57, .52, .08), (3.21, 13.62, .48, .02), (3.3, 13.54, .42, .02),
    (2.43, 13.49, .3, .1), (4.38, 13.44, .43, .1), (4.32, 13.18, .41, .08), (5.73, 13.35, .32, .02), (5.92, 13.25, .29, .02), (5.63, 13.03, .42, .01), (5.54, 12.77, .3, .02), (6.86, 13.62, .2, .03),
    (6.79, 13.37, .18, 0), (6.8, 12.92, .21, 0), (7.88, 13.31, .12, 0), (7.8, 13.14, .1, 0), (8.65, 13.07, .09, 0), (8.73, 13.47, .09, .03), (8.3, 12.85, .1, 0), (6.69, 12.55, .2, 0), (7.5, 12.53, .13, 0),
    (7.38, 12.24, .15, 0), (7.6, 12.09, .13, 0), (5.95, 12.15, .29, 0), (1.95, 13.15, .3, .1), (2.25, 13.3, .35, .13), (2.47, 13.1, .29, .1), (2.28, 12.92, .25, .08), (3.14, 13.0, .37, .1),
    (.62, 13.24, .11, .06), (.73, 13.31, .11, .06), (.89, 13.25, .1, .05), (.58, 13.0, .1, .06), (.98, 12.94, .12, .06), (1.47, 12.74, .17, .09), (1.17, 12.48, .13, .08), (1.73, 12.31, .24, .1),
    (1.91, 12.46, .22, .1), (3.34, 12.35, .42, .12), (3.73, 12.57, .43, .07), (3.86, 12.53, .42, .06), (4.25, 12.22, .43, .08), (4.78, 12.4, .43, .04), (5.21, 12.39, .35, 0), (1.21, 11.85, .17, .1),
    (1.69, 11.66, .26, .1), (2.15, 11.72, .3, .05), (2.41, 12.09, .23, .05), (2.95, 11.74, .45, .08), (2.93, 11.83, .45, .09), (2.25, 11.52, .46, .03), (2.43, 11.28, .29, .05), (3.99, 11.26, .52, .03),
    (4.25, 11.4, .5, .03), (4.84, 11.29, .43, 0), (4.93, 11.19, .43, 0), (5.54, 11.17, .28, 0), (5.54, 11.04, .28, 0), (6.01, 11.32, .26, 0), (6.45, 11.33, .21, 0), (6.93, 11.28, .16, 0), (7.91, 11.28, .11, 0),
    (7.91, 11.1, .1, 0), (7.65, 11.58, .07, 0), (7.17, 11.78, .15, 0), (7.73, 11.78, .1, 0), (8.21, 11.7, .09, 0), (8.15, 11.92, .1, 0), (8.73, 11.35, .09, 0), (8.6, 12.05, .2, 0)]
p2_arrows_mid_right = [(.21, 11.35, 0, .1), (.58, 11.48, -.05, .1), (.58, 11.13, .08, .1), (1.3, 11.17, .28, .1), (1.19, 10.84, .28, .15), (3.08, 11.0, .56, .05), (3.69, 11.02, .55, .03), (4.21, 10.87, .5, .01),
    (4.73, 10.94, .45, 0), (3.06, 10.7, .56, .05), (3.47, 10.65, .56, .03), (4.21, 10.56, .54, 0), (4.84, 10.43, .46, -.01), (5.51, 10.41, .3, 0), (3.36, 10.34, .53, .05), (3.41, 10.19, .54, .06), (3.95, 10.15, .61, 0),
    (6.1, 10.81, .24, -.02), (6.51, 10.78, .17, -.02), (6.78, 10.74, .19, -.02), (6.24, 10.63, .4, -.02), (6.43, 10.47, .22, -.02), (6.15, 10.43, .23, -.02), (6.91, 10.56, .16, -.02), (6.85, 10.39, .17, -.02),
    (7.17, 10.39, .13, -.02), (7.47, 10.56, .13, -.01), (7.21, 10.91, .13, -.01), (8.06, 10.78, .08, 0), (6.14, 9.89, .3, -.07), (6.78, 9.76, .29, -.07), (6.82, 9.67, .26, -.07), (7.0, 9.95, .17, -.05),
    (7.86, 10.04, .09, -.05), (8.01, 10.1, .1, -.02), (7.65, 9.6, .11, -.09), (7.82, 9.73, .09, -.07), (7.3, 9.43, .13, -.1), (8.21, 9.34, 0, -.08), (7.21, 9.12, .11, -.13), (4.97, 9.65, .68, -.13),
    (5.52, 9.56, .65, -.18), (4.86, 9.47, .74, -.12), (4.38, 9.32, .78, -.01), (5.47, 9.25, .65, -.2), (6.08, 9.34, .57, -.25), (4.95, 9.08, .7, -.1), (5.0, 8.95, .83, -.1), (4.43, 8.64, .52, .08), (4.38, 8.38, .3, .13),
    (5.02, 8.38, .43, -.03), (5.82, 8.51, .39, -.2), (6.08, 8.6, .39, -.27), (5.73, 8.25, .39, -.35), (6.65, 7.96, .04, -.24), (6.99, 8.16, -.04, -.3), (7.25, 8.21, .03, -.17), (7.46, 8.16, .02, -.13),
    (8.0, 8.38, 0, .06), (8.25, 8.23, 0, .06), (1.93, 9.47, .06, .27), (2.01, 9.15, .03, .22), (2.3, 9.69, .12, .2), (2.51, 9.62, .26, .26), (2.91, 9.69, .43, .22), (2.95, 8.82, .13, .39), (2.78, 8.7, .13, .33),
    (2.65, 8.9, .05, .26), (3.23, 8.82, .16, .13), (1.73, 8.51, -.09, .32), (1.86, 8.6, 0, .32), (2.11, 8.64, 0, .3), (1.89, 8.29, -.1, .33), (1.04, 8.51, -.17, .22), (3.47, 8.21, .13, .3), (3.6, 8.47, .13, .22),
    (3.12, 8.0, .04, .28), (3.71, 7.53, 0, .24), (.95, 7.73, -.22, .17), (1.58, 7.64, -.17, .26), (1.86, 7.42, -.16, .3), (2.08, 7.4, -.17, .23), (2.56, 7.34, -.13, .28), (2.69, 7.51, -.09, .28), (2.82, 7.42, -.04, .54),
    (3.45, 7.29, -.05, .2), (.2, 8.9, .1, .1), (.3, 8.7, .1, .1), (.25, 8.45, .15, .08), (.3, 8.15, .1, .12), (.25, 7.95, .15, .1), (.3, 7.75, .1, .15), (.3, 7.55, .12, .1), (.18, 7.4, .2, .1),
    (5.25, 10.0, -.15, 0)]


def smooth_path(pts, n=20, win=9):
    """Round a hand-read polyline a little so it does not look kinked."""
    p = np.array(pts, float)
    t = np.arange(len(p))
    tt = np.linspace(0, len(p) - 1, (len(p) - 1) * n + 1)
    x, y = np.interp(tt, t, p[:, 0]), np.interp(tt, t, p[:, 1])
    k = np.ones(win) / win
    pad = win // 2
    sx = np.convolve(np.pad(x, pad, mode='edge'), k, mode='valid')
    sy = np.convolve(np.pad(y, pad, mode='edge'), k, mode='valid')
    sx[0], sy[0], sx[-1], sy[-1] = x[0], y[0], x[-1], y[-1]
    return sx, sy


def draw_bands(ax, kx, edges):
    ax.set_facecolor(band_colors[0])
    grid = np.linspace(-9, 9, 721)
    for edge, col in zip(edges, band_colors[1:]):
        z = np.interp(grid, kx, edge)
        z = np.convolve(np.pad(z, 8, mode='edge'), np.ones(17) / 17, mode='valid')
        ax.fill_between(grid, z, 16, color=col, lw=0, zorder=1)


def draw_poly(ax, pts, col, zorder=1.5):
    x, y = smooth_path(list(pts) + [pts[0]], n=12, win=5)
    ax.fill(x, y, color=col, lw=0, zorder=zorder)


def draw_arrows(ax, data, frac=.42, ang=33., lw=1.75):
    a = np.array(data, float)
    x, z, u, w = a.T
    L = np.hypot(u, w)
    keep = L > 0
    x, z, u, w, L = x[keep], z[keep], u[keep], w[keep], L[keep]
    th = np.arctan2(w, u)
    tipx, tipz = x + u, z + w
    segs = []
    for i in range(len(x)):
        b = frac * L[i]
        segs.append([(x[i], z[i]), (tipx[i], tipz[i])])
        for s in (1, -1):
            t = th[i] + np.pi + s * np.radians(ang)
            segs.append([(tipx[i] + b * np.cos(t), tipz[i] + b * np.sin(t)), (tipx[i], tipz[i])])
    ax.add_collection(LineCollection(segs, colors='white', linewidths=lw, capstyle='round', zorder=4))


def draw_dots(ax, pts):
    a = np.array(pts, float)
    ax.plot(a[:, 0], a[:, 1], ls='none', marker='o', ms=2.6, mfc='white', mec='white', mew=0, zorder=4)


def draw_common(ax, fl, yx, yz, title, flw, bottom_label=False):
    for line in fl:
        x, y = smooth_path(line, n=24, win=15)
        ax.plot(x, y, color='white', lw=flw, zorder=5, solid_capstyle='butt')
    ax.plot(yx, yz, color='#e8e81e', lw=4.6, zorder=6, solid_capstyle='butt')
    ax.plot([-9, 9], [blue_level[0]] * 2, color='#2200dd', lw=3.0, ls=(0, (4.44, 4.44)), zorder=6, dash_capstyle='butt')
    ax.set_xlim(-9, 9)
    ax.set_ylim(0, 15)
    ax.xaxis.set_major_locator(FixedLocator(x_ticks))
    ax.set_xticklabels(x_tick_labels)
    ax.xaxis.set_minor_locator(MultipleLocator(1))
    ax.set_yticks(z_ticks)
    ax.set_yticklabels([str(v) for v in z_ticks])
    ax.yaxis.set_minor_locator(MultipleLocator(.5))
    ax.tick_params(which='major', direction='in', length=10, width=1.2, top=True, right=True, labelsize=26, color='black')
    ax.tick_params(axis='x', which='major', pad=19)
    ax.tick_params(axis='y', which='major', pad=8)
    ax.tick_params(which='minor', direction='in', length=5, width=1.2, top=True, right=True)
    ax.set_axisbelow(False)
    for s in ax.spines.values():
        s.set_linewidth(1.5)
        s.set_zorder(10)
    ax.set_ylabel(r"$z$  [Mm]", fontsize=28, labelpad=16)
    ax.set_title(title, fontsize=29, pad=11)
    if bottom_label:
        ax.set_xlabel(r"$x$  [Mm]", fontsize=28, labelpad=0)
    # the zero of the z axis sits above its tick in the original
    lab = [t for t in ax.get_yticklabels() if t.get_text() == "0"][0]
    lab.set_transform(lab.get_transform() + ScaledTranslation(0, 10 / 100, ax.figure.dpi_scale_trans))


W, H = 830., 1456.
fig = plt.figure(figsize=(W / 100, H / 100), dpi=100)
ax1 = fig.add_axes([133 / W, 1 - 622 / H, 688 / W, 573 / H])
ax2 = fig.add_axes([133 / W, 1 - 1352 / H, 688 / W, 573 / H])

# ---- t = 1.6 ks ----
draw_bands(ax1, p1_kx, p1_edges)
draw_poly(ax1, p1_lens_left, band_colors[7])
draw_poly(ax1, p1_lens_right, band_colors[7])
draw_dots(ax1, far_left_dots + far_right_dots + p1_dots)
for group in (p1_arrows_top_left, p1_arrows_mid_left, p1_arrows_center, p1_arrows_right, p1_arrows_top_right):
    draw_arrows(ax1, group)
for curve in p1_fan_left:
    for sign in (1, -1):
        pts = [(sign * a, b) for a, b in curve]
        x, y = smooth_path(pts, n=10, win=7)
        ax1.plot(x, y, color='white', lw=1.7, zorder=4)
draw_common(ax1, p1_fl, p1_yellow_x, p1_yellow_z, titles[0], 3.3)

# ---- t = 2.0 ks ----
draw_bands(ax2, p2_kx, p2_edges)
draw_poly(ax2, p2_lens_center, band_colors[7])
draw_poly(ax2, p2_lens_left, band_colors[7])
draw_poly(ax2, p2_lens_right, band_colors[7])
for col, poly in p2_flame:
    draw_poly(ax2, poly, col, zorder=1.6)
draw_dots(ax2, far_left_dots + far_right_dots)
for group in (p2_arrows_top_left, p2_arrows_mid_left, p2_arrows_center_small, p2_arrows_bottom_center,
              p2_arrows_right_low, p2_arrows_top_right, p2_arrows_mid_right):
    draw_arrows(ax2, group)
draw_arrows(ax2, p2_chevrons, frac=.36, ang=44., lw=1.8)
for curve in p2_curves:
    x, y = smooth_path(curve, n=10, win=7)
    ax2.plot(x, y, color='white', lw=1.6, zorder=4)
ax2.plot([p2_core[0][0], p2_core[1][0]], [p2_core[0][1], p2_core[1][1]], color='white', lw=6.5, zorder=5, solid_capstyle='butt')
draw_common(ax2, p2_fl, p2_yellow_x, p2_yellow_z, titles[1], 3.5, bottom_label=True)

fig.savefig("out.png", dpi=100)
